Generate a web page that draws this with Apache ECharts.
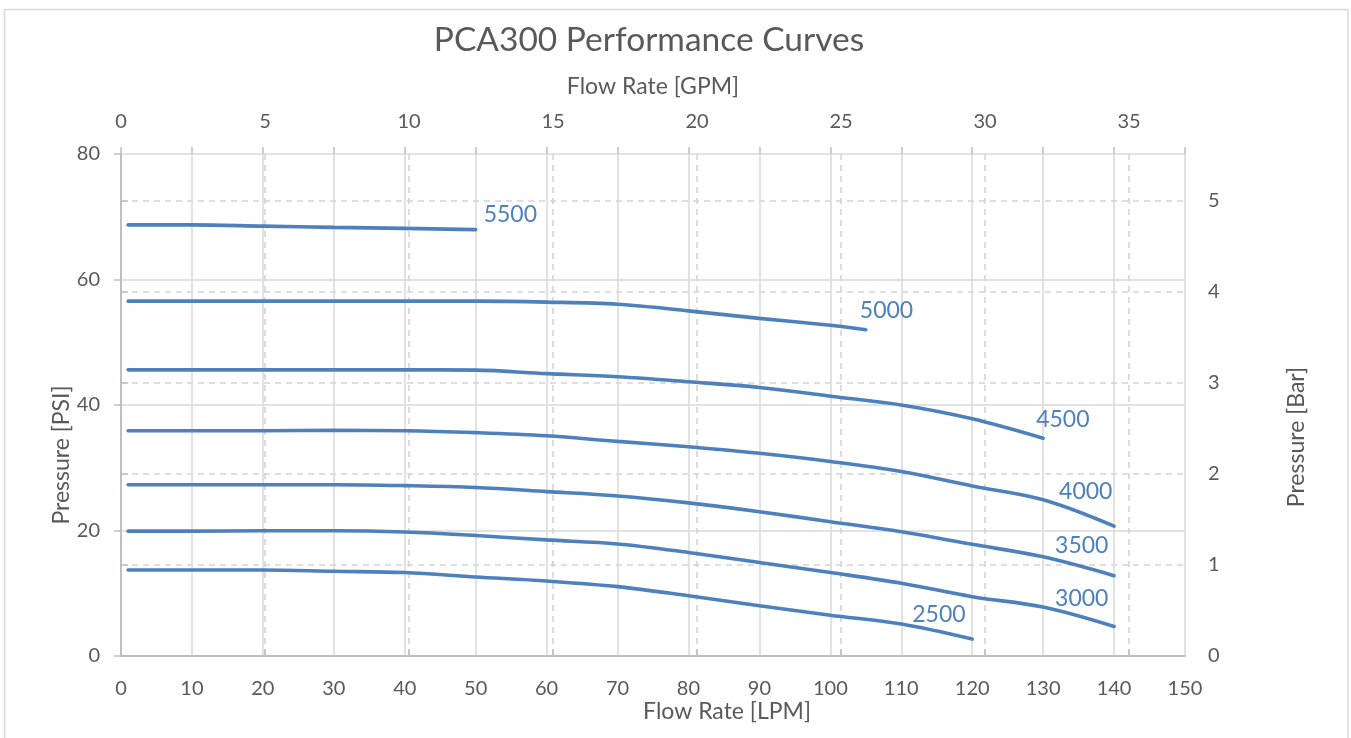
<!DOCTYPE html>
<html>
<head>
<meta charset="utf-8">
<script src="https://cdn.jsdelivr.net/npm/echarts@6/dist/echarts.min.js"></script>
<style>
html,body{margin:0;padding:0;background:#fff;}
#chart{width:1351px;height:738px;}
</style>
</head>
<body>
<div id="chart"></div>
<script>
// Flow rate [LPM], pressure [PSI] pairs per motor speed (RPM)
const seriesNames = ['5500','5000','4500','4000','3500','3000','2500'];
const s5500 = [[1,68.7],[10,68.7],[20,68.5],[30,68.3],[40,68.15],[50,67.95]];
const s5000 = [[1,56.55],[10,56.55],[20,56.55],[30,56.55],[40,56.55],[50,56.55],[60,56.4],[70,56.05],[80,55.0],[90,53.8],[100,52.7],[105,52.0]];
const s4500 = [[1,45.6],[10,45.6],[20,45.6],[30,45.6],[40,45.6],[50,45.55],[60,45.0],[70,44.5],[80,43.7],[90,42.8],[100,41.4],[110,40.0],[120,37.8],[130,34.7]];
const s4000 = [[1,35.9],[10,35.9],[20,35.9],[30,35.95],[40,35.9],[50,35.6],[60,35.1],[70,34.2],[80,33.35],[90,32.3],[100,31.0],[110,29.4],[120,27.1],[130,24.9],[140,20.7]];
const s3500 = [[1,27.3],[10,27.3],[20,27.3],[30,27.3],[40,27.15],[50,26.85],[60,26.2],[70,25.5],[80,24.4],[90,23.0],[100,21.4],[110,19.8],[120,17.8],[130,15.8],[140,12.8]];
const s3000 = [[1,19.9],[10,19.9],[20,19.95],[30,19.95],[40,19.75],[50,19.2],[60,18.5],[70,17.85],[80,16.5],[90,14.9],[100,13.3],[110,11.6],[120,9.45],[130,7.8],[140,4.7]];
const s2500 = [[1,13.7],[10,13.7],[20,13.7],[30,13.5],[40,13.3],[50,12.6],[60,11.95],[70,11.05],[80,9.6],[90,8.0],[100,6.5],[110,5.1],[120,2.7]];
const seriesData = [s5500,s5000,s4500,s4000,s3500,s3000,s2500];
const labelOffsets = [[0,-15],[-14,-19],[-15,-19],[-63,-35],[-67,-30],[-67,-28],[-68,-24]];

// Axis ranges
const lpmMin = 0, lpmMax = 150, lpmStep = 10;
const gpmMin = 0, gpmMax = 36.94, gpmStep = 5;
const psiMin = 0, psiMax = 80, psiStep = 20;
const barMin = 0, barMax = 80 / 14.5038, barStep = 1;
const barTicks = [0,1,2,3,4,5];
const gpmTicks = [0,5,10,15,20,25,30,35];

const FONT = 'Lato';
const TXT = '#595959';
const BLUE = '#4e80bd';
const GRID = '#d9d9d9';
const AXIS = '#bfbfbf';

const chart = echarts.init(document.getElementById('chart'), null, {renderer:'canvas'});

const series = seriesNames.map((n,i)=>({
  name:n, type:'line', xAxisIndex:0, yAxisIndex:0,
  data: seriesData[i], smooth:0.35, showSymbol:false, symbol:'none',
  lineStyle:{color:BLUE,width:3.6,cap:'round'},
  itemStyle:{color:BLUE},
  endLabel:{show:true, formatter:n, color:BLUE, fontFamily:FONT, fontSize:23, offset:labelOffsets[i]},
  emphasis:{disabled:true}, silent:true, animation:false
}));

const option = {
  animation:false,
  backgroundColor:'#fff',
  grid:{left:121, right:166, top:154, bottom:82, containLabel:false},
  xAxis:[
    {type:'value', position:'bottom', min:lpmMin, max:lpmMax, interval:lpmStep,
     axisLine:{show:false}, axisTick:{show:false},
     axisLabel:{color:TXT, fontFamily:FONT, fontSize:20, margin:23},
     splitLine:{show:true, lineStyle:{color:GRID, width:1.5}}},
    {type:'value', position:'top', min:gpmMin, max:gpmMax, interval:gpmStep,
     axisLine:{show:true, lineStyle:{color:AXIS, width:2}},
     axisTick:{show:true, length:7, lineStyle:{color:AXIS, width:1.5}, customValues:gpmTicks},
     axisLabel:{color:TXT, fontFamily:FONT, fontSize:20, margin:22, customValues:gpmTicks},
     splitLine:{show:true, showMinLine:false, lineStyle:{color:'#d4d4d4', width:1.6, type:[6,5]}}},
    {type:'value', position:'top', min:lpmMin, max:lpmMax, interval:lpmStep,
     axisLine:{show:false}, axisTick:{show:true, length:7, lineStyle:{color:AXIS, width:1.5}},
     axisLabel:{show:false}, splitLine:{show:false}}
  ],
  yAxis:[
    {type:'value', position:'left', min:psiMin, max:psiMax, interval:psiStep,
     axisLine:{show:true, lineStyle:{color:AXIS, width:2}},
     axisTick:{show:true, length:7, lineStyle:{color:AXIS, width:1.5}},
     axisLabel:{color:TXT, fontFamily:FONT, fontSize:20, margin:21},
     splitLine:{show:true, showMinLine:false, lineStyle:{color:GRID, width:1.5}}},
    {type:'value', position:'right', min:barMin, max:barMax, interval:barStep,
     axisLine:{show:true, lineStyle:{color:AXIS, width:2}},
     axisTick:{show:true, length:7, lineStyle:{color:AXIS, width:1.5}, customValues:barTicks},
     axisLabel:{color:TXT, fontFamily:FONT, fontSize:20, margin:23, customValues:barTicks},
     splitLine:{show:true, lineStyle:{color:'#d4d4d4', width:1.6, type:[6,5]}}}
  ],
  graphic:[
    {type:'rect', z:-10, silent:true, shape:{x:4.5, y:9.5, width:1343.5, height:740}, style:{fill:'#fff', stroke:GRID, lineWidth:1.5}},
    {type:'text', silent:true, x:649, y:40, style:{text:'PCA300 Performance Curves', fill:TXT, font:'33.5px '+FONT, textAlign:'center', textVerticalAlign:'middle'}},
    {type:'text', silent:true, x:653, y:87, style:{text:'Flow Rate [GPM]', fill:TXT, font:'23px '+FONT, textAlign:'center', textVerticalAlign:'middle'}},
    {type:'text', silent:true, x:727, y:712, style:{text:'Flow Rate [LPM]', fill:TXT, font:'23px '+FONT, textAlign:'center', textVerticalAlign:'middle'}},
    {type:'text', silent:true, x:62, y:455, rotation:Math.PI/2, style:{text:'Pressure [PSI]', fill:TXT, font:'23px '+FONT, textAlign:'center', textVerticalAlign:'middle'}},
    {type:'text', silent:true, x:1297, y:437, rotation:Math.PI/2, style:{text:'Pressure [Bar]', fill:TXT, font:'23px '+FONT, textAlign:'center', textVerticalAlign:'middle'}}
  ],
  series: series
};
chart.setOption(option);
</script>
</body>
</html>
